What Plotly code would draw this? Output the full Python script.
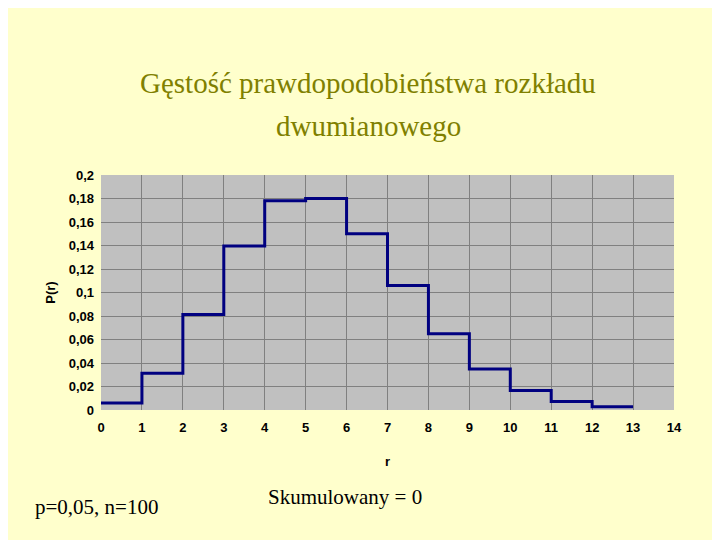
import plotly.graph_objects as go

r_values = list(range(0, 14))
p_values = [0.0059, 0.0312, 0.0812, 0.1396, 0.1781, 0.1800, 0.1500, 0.1060,
            0.0649, 0.0349, 0.0167, 0.0072, 0.0028, 0.0028]
x_ticks = list(range(0, 15))
y_ticks = [i / 100 for i in range(0, 21, 2)]
y_labels = ["0"] + [f"{v:.2f}".rstrip("0").replace(".", ",") for v in y_ticks[1:]]
title_lines = ["Gęstość prawdopodobieństwa rozkładu", "dwumianowego"]

L, R, T, B = 93, 54, 167, 138
fig = go.Figure()
fig.add_trace(go.Scatter(x=r_values, y=p_values, mode="lines", line_shape="hv",
                         line=dict(color="#000080", width=3), showlegend=False))

tf = dict(family="Liberation Sans", size=13, color="black", weight="bold")
fig.update_layout(
    width=720, height=540,
    paper_bgcolor="#FFFFCC", plot_bgcolor="#C0C0C0",
    margin=dict(l=L, r=R, t=T, b=B),
    xaxis=dict(range=[0, 14], tickvals=x_ticks, showgrid=True, gridcolor="#808080",
               gridwidth=1, zeroline=False, showline=False, ticks="", ticklabelstandoff=8,
               tickfont=tf,
               title=dict(text="<b>r</b>", font=dict(family="Liberation Sans", size=13, color="black"), standoff=22)),
    yaxis=dict(range=[0, 0.2], tickvals=y_ticks, ticktext=y_labels, showgrid=True,
               gridcolor="#808080", gridwidth=1, zeroline=False, ticks="", ticklabelstandoff=6,
               tickfont=tf,
               title=dict(text="<b>P(r)</b>", font=dict(family="Liberation Sans", size=13, color="black"), standoff=10)),
)
pw, ph = 720 - L - R, 540 - T - B
for line, py in zip(title_lines, [75, 118]):
    fig.add_annotation(text=line, x=(360 - L) / pw, y=(540 - B - py) / ph, xref="paper", yref="paper",
                       showarrow=False, xanchor="center", yanchor="middle",
                       font=dict(family="Times New Roman, Liberation Serif, DejaVu Serif", size=29,
                                 color="#808000", weight="normal", style="normal"))
for text, px, py in [("p=0,05, n=100", 25, 499), ("Skumulowany = 0", 258, 489)]:
    fig.add_annotation(text=text, x=(px - L) / pw, y=(540 - B - py) / ph,
                       xref="paper", yref="paper", showarrow=False,
                       xanchor="left", yanchor="middle",
                       font=dict(family="Liberation Serif", size=21, color="black"))
fig.write_html("out.html")
